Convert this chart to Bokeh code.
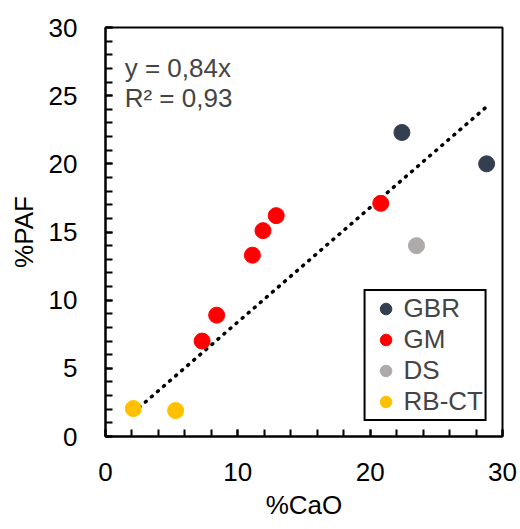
from bokeh.plotting import figure
from bokeh.models import Label, Legend, LegendItem, FixedTicker
from bokeh.embed import file_html
from bokeh.resources import INLINE

# ---- data ----
gbr_x = [22.4, 28.8]
gbr_y = [22.3, 20.0]
gm_x = [7.3, 8.4, 11.1, 11.9, 12.9, 20.8]
gm_y = [7.0, 8.9, 13.3, 15.1, 16.2, 17.1]
ds_x = [23.5]
ds_y = [14.0]
rb_x = [2.1, 5.3]
rb_y = [2.05, 1.9]
slope = 0.84
eq_text = "y = 0,84x"
r2_text = "R² = 0,93"
x_ticks = [0, 10, 20, 30]
y_ticks = [0, 5, 10, 15, 20, 25, 30]

FONT = "Liberation Sans"
FS = "26px"

p = figure(width=520, height=529, x_range=(0, 30), y_range=(0, 30),
           output_backend="svg", toolbar_location=None,
           min_border_left=105, min_border_right=18, min_border_top=27, min_border_bottom=93)
p.grid.visible = False
p.outline_line_color = "black"
p.outline_line_width = 2
p.outline_line_alpha = 1.0
p.background_fill_color = "white"
p.border_fill_color = "white"

for ax in (p.xaxis[0], p.yaxis[0]):
    ax.axis_line_color = "black"
    ax.axis_line_width = 2
    ax.major_tick_line_color = "black"
    ax.minor_tick_line_color = "black"
    ax.major_tick_line_width = 2
    ax.minor_tick_line_width = 2
    ax.major_tick_in = 7
    ax.major_tick_out = 0
    ax.minor_tick_in = 7
    ax.minor_tick_out = 0
    ax.major_label_text_font = FONT
    ax.major_label_text_font_size = FS
    ax.major_label_text_color = "black"
    ax.axis_label_text_font = FONT
    ax.axis_label_text_font_size = FS
    ax.axis_label_text_font_style = "normal"
    ax.axis_label_text_color = "black"

p.xaxis.ticker = FixedTicker(ticks=x_ticks, minor_ticks=list(range(0, 31, 2)))
p.yaxis.ticker = FixedTicker(ticks=y_ticks, minor_ticks=list(range(0, 31, 1)))
p.xaxis.major_label_standoff = 26
p.yaxis.major_label_standoff = 28
p.xaxis.axis_label = "%CaO"
p.yaxis.axis_label = "%PAF"
p.xaxis.axis_label_standoff = 6
p.yaxis.axis_label_standoff = 7

# trendline (linear fit through origin, over the data range)
all_x = gbr_x + gm_x + ds_x + rb_x
tx = [min(all_x), max(all_x)]
ty = [slope * v for v in tx]
p.line(tx, ty, line_color="black", line_width=3.5, line_dash="1 7", line_cap="round")

r_gbr = p.scatter(gbr_x, gbr_y, size=16, color="#333F50")
r_gm = p.scatter(gm_x, gm_y, size=16, color="#FF0000")
r_ds = p.scatter(ds_x, ds_y, size=16, color="#AEAAAA")
r_rb = p.scatter(rb_x, rb_y, size=16, color="#FFC000")

legend = Legend(items=[LegendItem(label="GBR", renderers=[r_gbr]),
                       LegendItem(label="GM", renderers=[r_gm]),
                       LegendItem(label="DS", renderers=[r_ds]),
                       LegendItem(label="RB-CT", renderers=[r_rb])],
                location="bottom_right", margin=15, padding=2, spacing=0,
                glyph_width=36, glyph_height=29, label_height=29, label_standoff=0,
                label_text_font=FONT, label_text_font_size=FS,
                border_line_color="black", border_line_width=2, border_line_alpha=1.0,
                background_fill_alpha=1.0)
p.add_layout(legend, "center")

p.add_layout(Label(x=1.45, y=27.05, text=eq_text, text_font=FONT, text_font_size=FS,
                   text_baseline="alphabetic"))
p.add_layout(Label(x=1.45, y=24.85, text=r2_text, text_font=FONT, text_font_size=FS,
                   text_baseline="alphabetic"))

open("out.html", "w").write(file_html(p, INLINE))
